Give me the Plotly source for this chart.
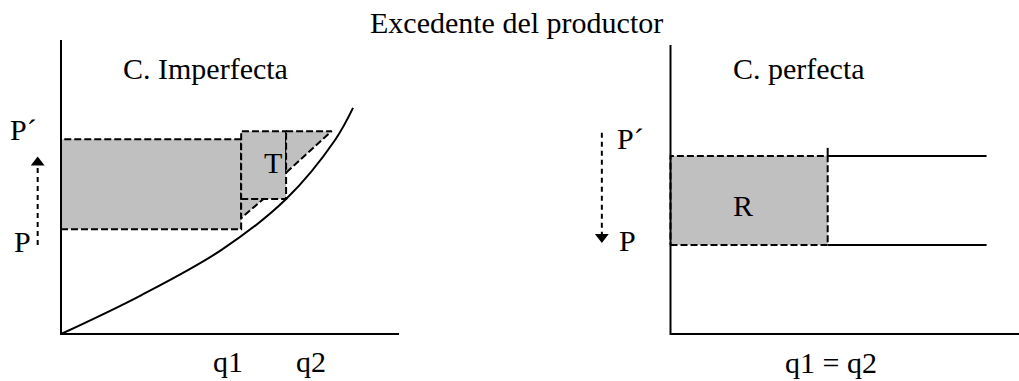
import plotly.graph_objects as go

# ---------------- data (diagram units) ----------------
# Left panel: imperfect competition
imp_curve_q = [0.0, 2.34, 4.75, 6.66, 8.11, 8.64]
imp_curve_p = [0.0, 1.30, 2.86, 4.59, 6.60, 7.69]
imp_prices = [3.56, 6.62]          # P, P´
imp_quantities = [5.33, 6.66]      # q1, q2
imp_t_box = [4.59, 6.90]           # bottom, top of T box
imp_upper_tri = [8.01, 5.49]       # right x at top, bottom y at q2
imp_lower_tri = [5.99, 3.94]       # right x at box bottom, bottom y at q1
imp_axis_end = [10.0, 10.0]

# Right panel: perfect competition
per_prices = [3.08, 6.16]          # P, P´
per_quantity = [4.51]              # q1 = q2
per_line_end = [9.07]
per_tick_top = [6.44]
per_axis_end = [10.0, 10.0]

FONT = dict(family="Liberation Serif, Times New Roman, serif", size=30, color="black")
GRAY = "#c0c0c0"
DASH = "7px,3px"

fig = go.Figure()


def poly(xs, ys, xa, ya, fill=True, dash=DASH, width=2):
    fig.add_trace(go.Scatter(
        x=xs, y=ys, xaxis=xa, yaxis=ya, mode="lines",
        fill="toself" if fill else None, fillcolor=GRAY,
        line=dict(color="black", width=width, dash=dash),
        hoverinfo="skip"))


# ---- left panel ----
P, Pp = imp_prices
q1, q2 = imp_quantities
tb, tt = imp_t_box
poly([0, q1, q1, 0, 0], [P, P, Pp, Pp, P], "x", "y")
poly([q1, q2, q2, q1, q1], [tb, tb, tt, tt, tb], "x", "y")
poly([q2, imp_upper_tri[0], q2, q2], [tt, tt, imp_upper_tri[1], tt], "x", "y")
poly([q1, imp_lower_tri[0], q1, q1], [tb, tb, imp_lower_tri[1], tb], "x", "y")

fig.add_trace(go.Scatter(x=imp_curve_q, y=imp_curve_p, mode="lines",
                         line=dict(color="black", width=2, shape="spline", smoothing=1.0),
                         hoverinfo="skip"))
# axes
fig.add_trace(go.Scatter(x=[0, 0, imp_axis_end[0]], y=[imp_axis_end[1], 0, 0], mode="lines",
                         line=dict(color="black", width=2), hoverinfo="skip"))
# arrow up
fig.add_trace(go.Scatter(x=[-0.69, -0.69], y=[3.03, 5.83], mode="lines",
                         line=dict(color="black", width=2, dash="5px,4px"), hoverinfo="skip"))
fig.add_trace(go.Scatter(x=[-0.69], y=[5.83], mode="markers",
                         marker=dict(symbol="triangle-up", size=12, color="black"), hoverinfo="skip"))

# ---- right panel ----
rP, rPp = per_prices
rq = per_quantity[0]
poly([0, rq, rq, 0, 0], [rP, rP, rPp, rPp, rP], "x2", "y2")
for yv in per_prices:
    fig.add_trace(go.Scatter(x=[rq, per_line_end[0]], y=[yv, yv], xaxis="x2", yaxis="y2",
                             mode="lines", line=dict(color="black", width=2), hoverinfo="skip"))
fig.add_trace(go.Scatter(x=[rq, rq], y=[rPp, per_tick_top[0]], xaxis="x2", yaxis="y2",
                         mode="lines", line=dict(color="black", width=2), hoverinfo="skip"))
fig.add_trace(go.Scatter(x=[0, 0, per_axis_end[0]], y=[per_axis_end[1], 0, 0], xaxis="x2", yaxis="y2",
                         mode="lines", line=dict(color="black", width=2), hoverinfo="skip"))
fig.add_trace(go.Scatter(x=[-1.97, -1.97], y=[6.96, 3.36], xaxis="x2", yaxis="y2", mode="lines",
                         line=dict(color="black", width=2, dash="5px,4px"), hoverinfo="skip"))
fig.add_trace(go.Scatter(x=[-1.97], y=[3.36], xaxis="x2", yaxis="y2", mode="markers",
                         marker=dict(symbol="triangle-down", size=12, color="black"), hoverinfo="skip"))

# ---- text ----
ann = []


def txt(t, x, y, xref="x", yref="y"):
    ann.append(dict(text=t, x=x, y=y, xref=xref, yref=yref, showarrow=False,
                    xanchor="center", yanchor="middle", font=FONT))


txt("Excedente del productor", 0.507, 0.942, "paper", "paper")
txt("C. Imperfecta", 0.202, 0.8215, "paper", "paper")
txt("C. perfecta", 0.784, 0.8215, "paper", "paper")
txt("P´", -1.12, 6.94)
txt("P", -1.14, 3.16)
txt("T", 6.27, 5.85)
txt("q1", 4.94, -0.95)
txt("q2", 7.40, -0.95)
txt("P´", -1.16, 6.75, "x2", "y2")
txt("P", -1.22, 3.22, "x2", "y2")
txt("R", 2.08, 4.43, "x2", "y2")
txt("q1 = q2", 4.61, -0.97, "x2", "y2")

fig.update_layout(
    width=1019, height=381, margin=dict(l=0, r=0, t=0, b=0),
    paper_bgcolor="white", plot_bgcolor="white", showlegend=False,
    annotations=ann,
    xaxis=dict(domain=[0, 0.5], range=[-1.805, 13.27], visible=False, fixedrange=True),
    yaxis=dict(domain=[0, 1], range=[-1.599, 11.36], visible=False, fixedrange=True),
    xaxis2=dict(domain=[0.5, 1], range=[-4.62, 10.0], visible=False, anchor="y2", fixedrange=True),
    yaxis2=dict(domain=[0, 1], range=[-1.626, 11.557], visible=False, anchor="x2", fixedrange=True),
)

fig.write_html("out.html", config={"displayModeBar": False},
               post_script="document.body.style.margin='0';document.body.style.overflow='hidden';")
